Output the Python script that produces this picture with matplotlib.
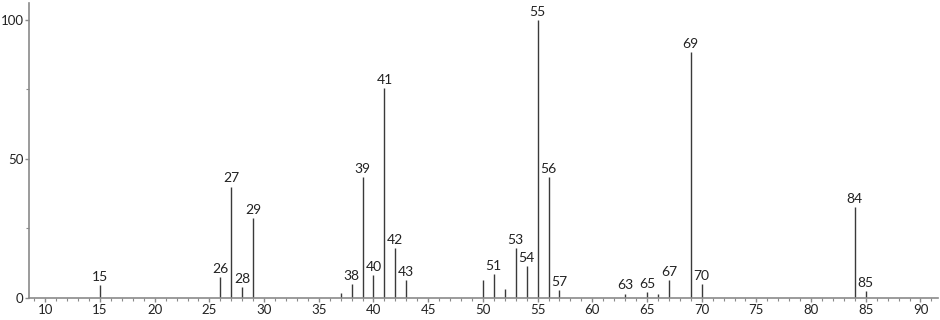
import matplotlib
matplotlib.use("Agg")
import matplotlib.pyplot as plt
from matplotlib.ticker import MultipleLocator

mz = [15, 26, 27, 28, 29, 37, 38, 39, 40, 41, 42, 43, 50, 51, 52, 53, 54, 55,
      56, 57, 63, 65, 66, 67, 69, 70, 84, 85]
intensity = [4.6, 7.4, 40.1, 4.0, 28.8, 1.9, 5.1, 43.4, 8.2, 75.6, 18.0, 6.3,
             6.3, 8.7, 3.4, 17.9, 11.4, 100.0, 43.6, 3.0, 1.6, 2.3, 1.6, 6.4,
             88.6, 5.0, 32.7, 2.4]
labeled = [15, 26, 27, 28, 29, 38, 39, 40, 41, 42, 43, 51, 53, 54, 55, 56, 57,
           63, 65, 67, 69, 70, 84, 85]

plt.rcParams['font.family'] = ['Lato', 'DejaVu Sans']

fig = plt.figure(figsize=(9.4, 3.2), dpi=100)
ax = fig.add_axes([29/940, 22/320, 909/940, 295/320])

ax.vlines(mz, 0, intensity, colors='#3a3a3a', linewidth=1.0)
for m, v in zip(mz, intensity):
    if m in labeled:
        ax.annotate(str(m), (m, v), xytext=(0, 1.5), textcoords='offset points',
                    ha='center', va='bottom', fontsize=10, color='#222222')

ax.set_xlim(8.51, 91.6)
ax.set_ylim(0, 106.1)
ax.xaxis.set_major_locator(MultipleLocator(5))
ax.xaxis.set_minor_locator(MultipleLocator(1))
ax.yaxis.set_major_locator(MultipleLocator(50))
ax.yaxis.set_minor_locator(MultipleLocator(25))

for s in ['top', 'right']:
    ax.spines[s].set_visible(False)
for s in ['left', 'bottom']:
    ax.spines[s].set_color('#8a8a8a')
    ax.spines[s].set_linewidth(1.2)

ax.tick_params(axis='both', which='major', length=3, width=1, color='#8a8a8a',
               labelsize=9.5, labelcolor='#222222', pad=1)
ax.tick_params(axis='both', which='minor', length=2.2, width=0.8, color='#8a8a8a')

fig.savefig('out.png', dpi=100)
